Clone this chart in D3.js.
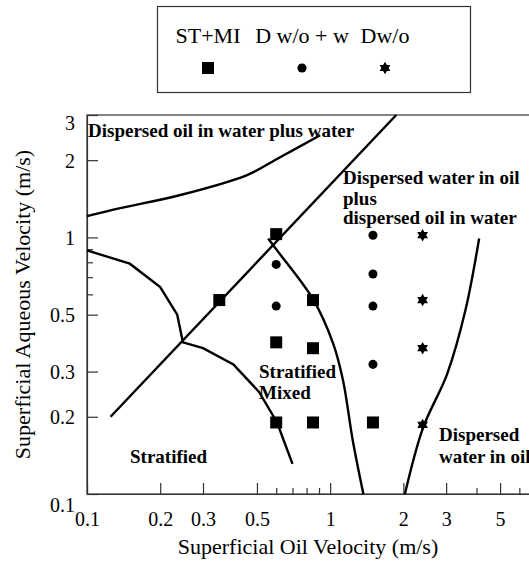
<!DOCTYPE html>
<html lang="en">
<head>
<meta charset="UTF-8">
<title>Flow pattern map</title>
<script src="https://cdn.jsdelivr.net/npm/d3@7"></script>
<style>
  body { margin: 0; background: #fff; }
  svg text { font-family: "Liberation Serif", "DejaVu Serif", serif; fill: #000; }
  .region { font-weight: bold; font-size: 19px; }
  .axis text { font-size: 20px; }
  .axis line, .axis path { stroke: #333; stroke-width: 1.2; }
</style>
</head>
<body>
<script>
// tick values
var xTicksMajor = [0.1, 0.2, 0.3, 0.5, 1, 2, 3, 5];
var xTicksMinor = [0.6, 0.7, 0.8, 0.9, 4, 6];
var yTicksMajor = [0.1, 0.2, 0.3, 0.5, 1, 2, 3];
var yTicksMinor = [0.6, 0.7, 0.8, 0.9];

// ST+MI (squares)
var stmiX = [0.6, 0.35, 0.85, 0.6, 0.85, 0.6, 0.85, 1.5];
var stmiY = [1.03, 0.57, 0.57, 0.39, 0.37, 0.19, 0.19, 0.19];
// D w/o + w (dots)
var dwowX = [0.6, 0.6, 1.5, 1.5, 1.5, 1.5];
var dwowY = [0.785, 0.54, 1.02, 0.72, 0.54, 0.32];
// Dw/o (stars)
var dwoX = [2.4, 2.4, 2.4, 2.4];
var dwoY = [1.02, 0.57, 0.37, 0.186];

// transition boundaries
var bndOilInWater = [[0.1, 1.21], [0.137, 1.30], [0.24, 1.46], [0.455, 1.75], [0.62, 2.05], [0.91, 2.5]];
var bndDiagonal = [[0.125, 0.2], [1.87, 3.0]];
var bndStratified = [[0.1, 0.89], [0.15, 0.79], [0.2, 0.64], [0.235, 0.50], [0.248, 0.39],
                     [0.30, 0.37], [0.40, 0.32], [0.51, 0.25], [0.605, 0.19], [0.70, 0.131]];
var bndMixed = [[0.556, 0.99], [0.605, 0.89], [0.85, 0.575], [1.03, 0.385], [1.13, 0.277], [1.24, 0.161], [1.37, 0.1]];
var bndWaterInOil = [[4.1, 0.99], [3.6, 0.52], [3.03, 0.294], [2.41, 0.181], [2.03, 0.1]];

var legendNames = ["ST+MI", "D w/o + w", "Dw/o"];

var W = 529, H = 566;
var mLeft = 87, mTop = 115, mRight = 531, mBottom = 494;

var svg = d3.select("body").append("svg")
    .attr("width", W)
    .attr("height", H);

var x = d3.scaleLog().domain([0.1, 6.7]).range([mLeft, mRight]);
var y = d3.scaleLog().domain([0.1, 3]).range([mBottom, mTop]);

// six pointed star for d3.symbol
var symbolHexagram = {
  draw: function(ctx, size) {
    var r = Math.sqrt(size) * 0.62;
    for (var t = 0; t < 2; t++) {
      for (var k = 0; k < 3; k++) {
        var a = (t * 60 - 90 + k * 120) * Math.PI / 180;
        if (k == 0) ctx.moveTo(r * Math.cos(a), r * Math.sin(a));
        else ctx.lineTo(r * Math.cos(a), r * Math.sin(a));
      }
      ctx.closePath();
    }
  }
};

// frame (right side falls outside the picture)
svg.append("rect")
    .attr("x", mLeft).attr("y", mTop)
    .attr("width", mRight - mLeft).attr("height", mBottom - mTop)
    .attr("fill", "none").attr("stroke", "#333").attr("stroke-width", 1.2);

// x axis
var gx = svg.append("g").attr("class", "axis")
    .attr("transform", "translate(0," + mBottom + ")")
    .call(d3.axisBottom(x).tickValues(xTicksMajor).tickSize(-11).tickSizeOuter(0)
        .tickPadding(18).tickFormat(function(d) { return String(d); }));
gx.attr("font-family", null);
svg.append("g").attr("class", "axis")
    .attr("transform", "translate(0," + mBottom + ")")
    .call(d3.axisBottom(x).tickValues(xTicksMinor).tickSize(-6).tickSizeOuter(0).tickFormat(""))
    .select(".domain").remove();

// y axis
var gy = svg.append("g").attr("class", "axis")
    .attr("transform", "translate(" + mLeft + ",0)")
    .call(d3.axisLeft(y).tickValues(yTicksMajor).tickSize(-11).tickSizeOuter(0)
        .tickPadding(12).tickFormat(function(d) { return String(d); }));
gy.attr("font-family", null);
gy.selectAll(".tick text")
    .attr("dy", function(d) { return d == 0.1 ? "0.85em" : d == 3 ? "0.7em" : "0.35em"; });
svg.append("g").attr("class", "axis")
    .attr("transform", "translate(" + mLeft + ",0)")
    .call(d3.axisLeft(y).tickValues(yTicksMinor).tickSize(-6).tickSizeOuter(0).tickFormat(""))
    .select(".domain").remove();

// axis titles
svg.append("text")
    .attr("x", 308).attr("y", 554)
    .attr("text-anchor", "middle")
    .style("font-size", "22px")
    .text("Superficial Oil Velocity (m/s)");
svg.append("text")
    .attr("transform", "translate(30," + (mTop + mBottom) / 2 + ") rotate(-90)")
    .attr("text-anchor", "middle")
    .style("font-size", "22px")
    .text("Superficial Aqueous Velocity (m/s)");

// boundaries
var line = d3.line().x(function(d) { return x(d[0]); }).y(function(d) { return y(d[1]); });
var smooth = d3.line().curve(d3.curveCatmullRom)
    .x(function(d) { return x(d[0]); }).y(function(d) { return y(d[1]); });

[[bndOilInWater, smooth], [bndDiagonal, line], [bndStratified, line],
 [bndMixed, smooth], [bndWaterInOil, smooth]].forEach(function(b) {
  svg.append("path")
      .attr("d", b[1](b[0]))
      .attr("fill", "none")
      .attr("stroke", "#000")
      .attr("stroke-width", 2.4);
});

// region labels
var labels = [
  {t: "Dispersed oil in water plus water", x: 88, y: 137},
  {t: "Dispersed water in oil", x: 343, y: 184},
  {t: "plus", x: 343, y: 205},
  {t: "dispersed oil in water", x: 343, y: 224},
  {t: "Stratified", x: 259, y: 378},
  {t: "Mixed", x: 259, y: 399},
  {t: "Stratified", x: 130, y: 463},
  {t: "Dispersed", x: 439, y: 441},
  {t: "water in oil", x: 439, y: 463}
];
svg.selectAll("text.region").data(labels).enter().append("text")
    .attr("class", "region")
    .attr("x", function(d) { return d.x; })
    .attr("y", function(d) { return d.y; })
    .text(function(d) { return d.t; });

// data markers
var sq = d3.symbol().type(d3.symbolSquare).size(144);
var dot = d3.symbol().type(d3.symbolCircle).size(64);
var star = d3.symbol().type(symbolHexagram).size(100);

svg.append("g").selectAll("path").data(stmiX).enter().append("path")
    .attr("d", sq)
    .attr("transform", function(d, i) { return "translate(" + x(d) + "," + y(stmiY[i]) + ")"; });
svg.append("g").selectAll("path").data(dwowX).enter().append("path")
    .attr("d", dot)
    .attr("transform", function(d, i) { return "translate(" + x(d) + "," + y(dwowY[i]) + ")"; });
svg.append("g").selectAll("path").data(dwoX).enter().append("path")
    .attr("d", star)
    .attr("transform", function(d, i) { return "translate(" + x(d) + "," + y(dwoY[i]) + ")"; });

// legend
var lg = svg.append("g");
lg.append("rect")
    .attr("x", 157.5).attr("y", 6.5).attr("width", 313).attr("height", 86)
    .attr("fill", "none").attr("stroke", "#333").attr("stroke-width", 1.2);
var legX = [208, 302, 385];
var legSym = [sq, d3.symbol().type(d3.symbolCircle).size(66), star];
legendNames.forEach(function(n, i) {
  lg.append("text")
      .attr("x", legX[i]).attr("y", 43)
      .attr("text-anchor", "middle")
      .style("font-size", "22px")
      .text(n);
  lg.append("path")
      .attr("d", legSym[i])
      .attr("transform", "translate(" + legX[i] + ",68)");
});
</script>
</body>
</html>
